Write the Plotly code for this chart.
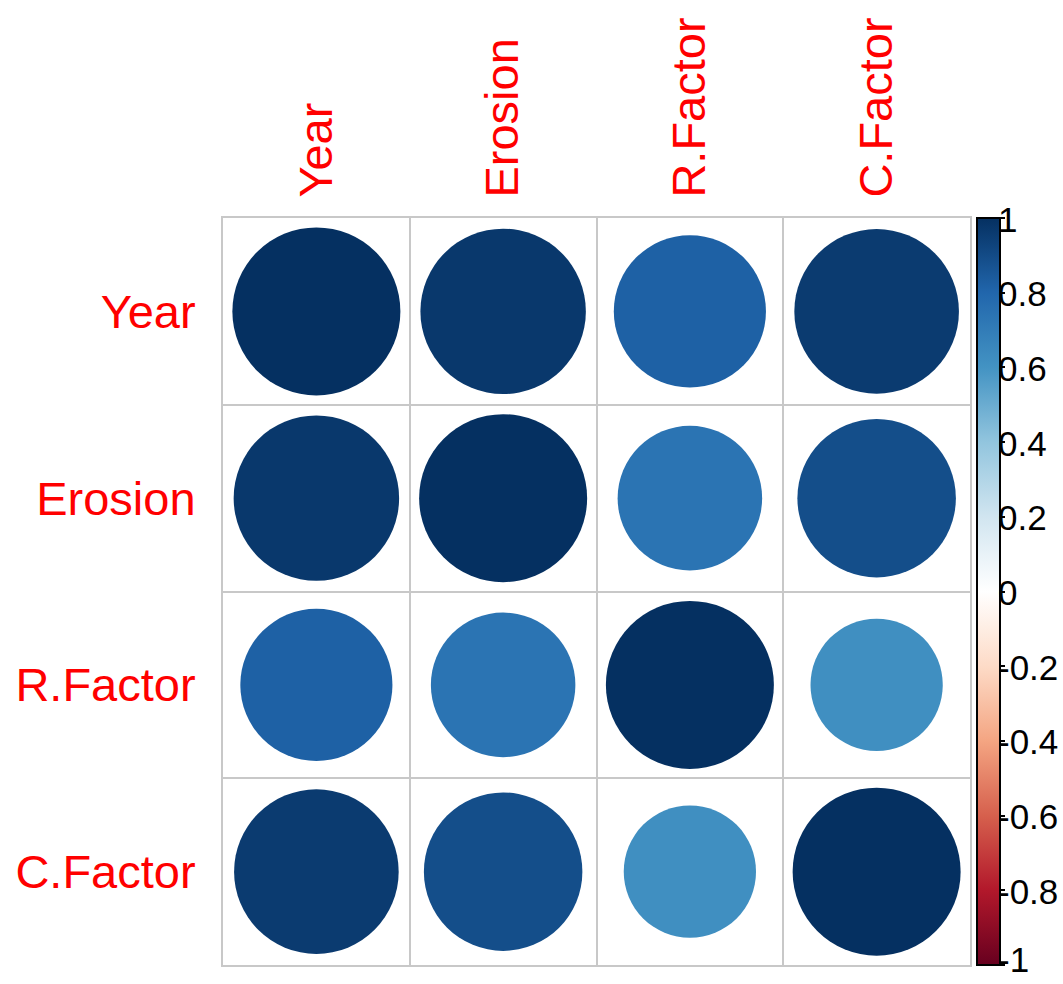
import numpy as np
import plotly.graph_objects as go

# Variables and their correlation matrix
variables = ["Year", "Erosion", "R.Factor", "C.Factor"]
corr_year = [1.00, 0.97, 0.82, 0.96]
corr_erosion = [0.97, 1.00, 0.74, 0.89]
corr_rfactor = [0.82, 0.74, 1.00, 0.62]
corr_cfactor = [0.96, 0.89, 0.62, 1.00]
corr_rows = [corr_year, corr_erosion, corr_rfactor, corr_cfactor]
colorbar_ticks = [1, 0.8, 0.6, 0.4, 0.2, 0, -0.2, -0.4, -0.6, -0.8, -1]

# Diverging red-blue palette (corrplot style)
rdbu = ["#67001F", "#B2182B", "#D6604D", "#F4A582", "#FDDBC7", "#FFFFFF",
        "#D1E5F0", "#92C5DE", "#4393C3", "#2166AC", "#053061"]
colorscale = [[i / (len(rdbu) - 1), c] for i, c in enumerate(rdbu)]

W, H = 1063, 984
ML, MR, MT, MB = 223, 93, 218, 19
plot_w = W - ML - MR
max_diam = 168  # circle diameter (px) for |r| = 1

xs, ys, vals = [], [], []
for i, row in enumerate(corr_rows):
    for j, v in enumerate(row):
        xs.append(j)
        ys.append(i)
        vals.append(v)
vals = np.array(vals)

fig = go.Figure()
fig.add_trace(go.Scatter(
    x=xs, y=ys, mode="markers",
    marker=dict(
        size=np.sqrt(np.abs(vals)),
        sizemode="diameter",
        sizeref=1.0 / max_diam,
        color=vals,
        colorscale=colorscale,
        cmin=-1, cmax=1,
        line=dict(width=0),
        opacity=1,
        colorbar=dict(
            x=(977 - ML) / plot_w, xanchor="left", xpad=0,
            y=0.5, yanchor="middle", ypad=0, len=1, lenmode="fraction",
            thickness=23,
            outlinecolor="black", outlinewidth=2,
            tickmode="array", tickvals=colorbar_ticks,
            ticks="outside", ticklen=4, tickcolor="black", tickwidth=2,
            showticklabels=False,
        ),
    ),
    hoverinfo="skip",
    showlegend=False,
))

# Colorbar labels (the lowest one nudged up to stay inside the page)
for t in colorbar_ticks:
    fig.add_annotation(
        x=(996 - ML) / plot_w, y=(t + 1) / 2, xref="paper", yref="paper",
        text=f"{t:g}", showarrow=False, xanchor="left", yanchor="middle",
        yshift=6 if t == -1 else -1,
        font=dict(family="Liberation Sans, Arial", size=35, color="black"),
    )

grid_color = "#C8C8C8"
boundaries = [0.5, 1.5, 2.5]

fig.update_xaxes(
    range=[-0.5, 3.5], side="top",
    tickmode="array", tickvals=list(range(len(variables))), ticktext=variables,
    tickangle=-90, ticks="", ticklabelstandoff=9,
    tickfont=dict(family="Liberation Sans, Arial", size=47, color="#FF0000"),
    showgrid=False, zeroline=False,
    minor=dict(tickmode="array", tickvals=boundaries, showgrid=True,
               gridcolor=grid_color, gridwidth=2, ticks=""),
    showline=True, mirror=True, linecolor=grid_color, linewidth=2,
    fixedrange=True,
)
fig.update_yaxes(
    range=[3.5, -0.5],
    tickmode="array", tickvals=list(range(len(variables))), ticktext=variables,
    ticks="", ticklabelstandoff=16,
    tickfont=dict(family="Liberation Sans, Arial", size=47, color="#FF0000"),
    showgrid=False, zeroline=False,
    minor=dict(tickmode="array", tickvals=boundaries, showgrid=True,
               gridcolor=grid_color, gridwidth=2, ticks=""),
    showline=True, mirror=True, linecolor=grid_color, linewidth=2,
    fixedrange=True,
)

fig.update_layout(
    width=W, height=H,
    margin=dict(l=ML, r=MR, t=MT, b=MB, autoexpand=False),
    paper_bgcolor="white", plot_bgcolor="white",
)

fig.write_html("out.html")
